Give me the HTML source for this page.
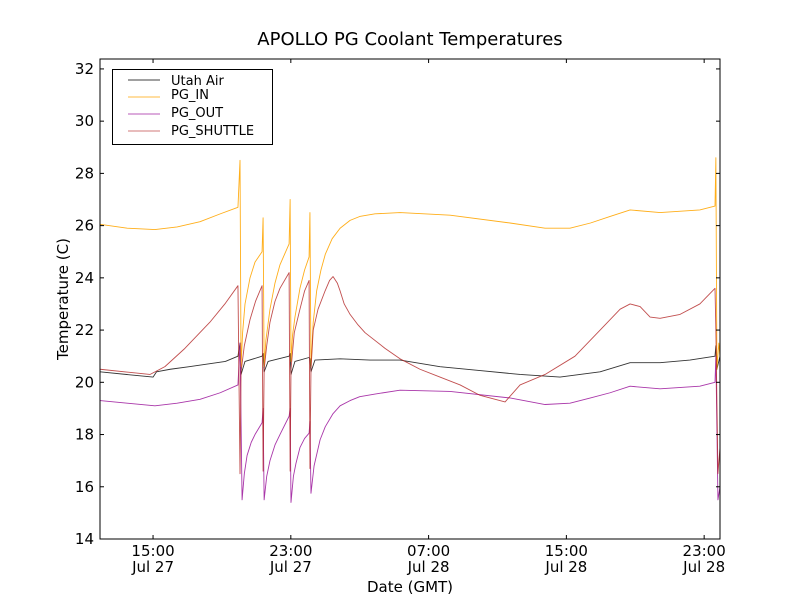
<!DOCTYPE html>
<html><head><meta charset="utf-8"><style>
body{margin:0;background:#fff;}
svg text{font-family:"DejaVu Sans","Liberation Sans",sans-serif;}
</style></head><body>
<svg id="chart" width="800" height="600" xmlns="http://www.w3.org/2000/svg">
<rect width="800" height="600" fill="#fff"/>
<text x="410" y="45" font-size="18" text-anchor="middle">APOLLO PG Coolant Temperatures</text>
<text x="410" y="592" font-size="15" text-anchor="middle">Date (GMT)</text>
<text transform="translate(68,299) rotate(-90)" font-size="15" text-anchor="middle">Temperature (C)</text>
<g id="series"></g>
<g id="axes"></g>
<g>
<rect x="112.5" y="69.5" width="160" height="75" fill="#fff" stroke="#000" stroke-width="1"/>
<line x1="128" y1="80" x2="160" y2="80" stroke="#000" stroke-width="0.8"/>
<text x="171" y="85" font-size="13">Utah Air</text>
<line x1="128" y1="97" x2="160" y2="97" stroke="#ffa500" stroke-width="0.8"/>
<text x="171" y="99" font-size="13">PG_IN</text>
<line x1="128" y1="114" x2="160" y2="114" stroke="#a020a0" stroke-width="0.8"/>
<text x="171" y="117" font-size="13">PG_OUT</text>
<line x1="128" y1="131" x2="160" y2="131" stroke="#b22222" stroke-opacity="0.8" stroke-width="0.8"/>
<text x="171" y="135" font-size="13">PG_SHUTTLE</text>
</g>
</svg>
<script>
// hours since Jul 27 00:00 GMT
const xTickHours = [15, 23, 31, 39, 47];
const xTickLabels = [["15:00","Jul 27"],["23:00","Jul 27"],["07:00","Jul 28"],["15:00","Jul 28"],["23:00","Jul 28"]];
const yTicks = [14,16,18,20,22,24,26,28,30,32];

const airT = [11.92,15.0,15.2,16.0,17.1,19.2,19.93,20.05,20.11,20.34,21.33,21.39,21.45,21.68,22.90,22.96,23.01,23.24,24.06,24.11,24.17,24.40,25.86,27.6,29.34,31.66,33.99,36.31,38.63,40.96,42.70,44.44,46.17,47.63,47.68,47.74,47.92];
const airV = [20.4,20.2,20.4,20.5,20.6,20.8,21.0,21.5,20.3,20.8,21.0,21.1,20.4,20.8,21.0,21.1,20.3,20.8,20.95,20.9,20.4,20.85,20.9,20.85,20.85,20.6,20.45,20.3,20.2,20.4,20.75,20.75,20.85,21.0,21.4,20.5,21.0];

const inT = [11.92,13.5,15.11,16.4,17.73,18.9,19.93,20.05,20.11,20.2,20.34,20.63,20.92,21.33,21.39,21.45,21.55,21.79,22.08,22.37,22.90,22.96,23.01,23.1,23.24,23.53,23.8,24.06,24.11,24.17,24.3,24.5,24.75,25.0,25.4,25.86,26.44,27.0,27.89,29.34,32.25,35.73,37.76,39.21,40.4,41.54,42.70,44.44,46.75,47.63,47.68,47.74,47.85,47.92];
const inV = [26.05,25.9,25.85,25.95,26.15,26.45,26.7,28.5,20.6,21.9,23.0,24.0,24.6,25.0,26.3,20.6,21.6,22.8,23.8,24.5,25.3,27.0,20.8,21.8,22.5,23.6,24.3,24.8,26.5,20.6,22.3,23.5,24.3,24.9,25.5,25.9,26.2,26.35,26.45,26.5,26.4,26.1,25.9,25.9,26.1,26.35,26.6,26.5,26.6,26.75,28.6,20.5,21.5,21.0];

const outT = [11.92,13.5,15.11,16.4,17.73,18.9,19.93,20.05,20.17,20.3,20.46,20.7,20.92,21.33,21.39,21.45,21.6,21.79,22.08,22.37,22.90,22.96,23.01,23.15,23.3,23.53,23.8,24.06,24.11,24.17,24.35,24.70,25.0,25.45,25.86,26.44,27.0,27.89,29.34,32.25,35.73,37.76,39.21,40.4,41.54,42.70,44.44,46.75,47.63,47.68,47.80,47.92];
const outV = [19.3,19.2,19.1,19.2,19.35,19.6,19.9,21.5,15.5,16.5,17.2,17.7,18.0,18.45,19.0,15.5,16.4,17.0,17.6,18.0,18.7,19.0,15.4,16.4,16.9,17.5,17.85,18.05,18.5,15.75,16.8,17.8,18.3,18.8,19.1,19.3,19.45,19.55,19.7,19.65,19.4,19.15,19.2,19.4,19.6,19.85,19.75,19.85,20.0,21.0,15.5,16.0];

const shT = [11.92,14.82,15.69,16.85,18.30,19.17,19.93,20.05,20.11,20.3,20.63,20.95,21.33,21.39,21.45,21.6,21.79,22.08,22.37,22.90,22.96,23.01,23.2,23.53,23.8,24.06,24.11,24.17,24.3,24.58,24.99,25.25,25.45,25.7,25.86,26.1,26.44,26.9,27.31,28.47,29.34,30.50,31.66,32.83,33.99,35.44,36.31,37.76,39.50,40.96,42.12,42.70,43.28,43.86,44.44,45.60,46.75,47.63,47.68,47.80,47.92];
const shV = [20.5,20.3,20.6,21.3,22.3,23.0,23.7,16.5,20.4,21.4,22.4,23.1,23.7,16.6,20.5,21.4,22.3,23.1,23.6,24.2,16.6,20.5,21.9,22.8,23.5,23.9,16.7,20.5,22.0,22.8,23.5,23.9,24.05,23.8,23.5,23.0,22.6,22.2,21.9,21.3,20.9,20.5,20.2,19.9,19.5,19.25,19.9,20.3,21.0,22.0,22.8,23.0,22.9,22.5,22.45,22.6,23.0,23.6,22.0,16.5,17.5];

const X0=100,X1=720,Y0=59,Y1=539,TMIN=11.92,TMAX=47.92,VMIN=14,VMAX=32.38;
function xs(t){return X0+(t-TMIN)/(TMAX-TMIN)*(X1-X0);}
function ys(v){return Y1-(v-VMIN)/(VMAX-VMIN)*(Y1-Y0);}
const NS="http://www.w3.org/2000/svg";
function mk(tag,attrs,parent){const e=document.createElementNS(NS,tag);for(const k in attrs)e.setAttribute(k,attrs[k]);parent.appendChild(e);return e;}
const sg=document.getElementById('series');
function line(T,V,color,name,op){
  let d=T.map((t,i)=>(i?'L':'M')+xs(t).toFixed(2)+','+ys(V[i]).toFixed(2)).join('');
  const p=mk('path',{d:d,fill:'none',stroke:color,'stroke-width':0.9,'stroke-opacity':op,'stroke-linejoin':'round'},sg);
  
  
}
line(airT,airV,'#000','line-utah-air',0.8);
line(inT,inV,'#ffa500','line-pg-in',0.9);
line(outT,outV,'#a020a0','line-pg-out',0.9);
line(shT,shV,'#b22222','line-pg-shuttle',0.8);

const ag=document.getElementById('axes');
mk('rect',{x:X0,y:Y0,width:X1-X0,height:Y1-Y0,fill:'none',stroke:'#000','stroke-width':1},ag);
yTicks.forEach(v=>{
  const y=ys(v);
  mk('line',{x1:X0,y1:y,x2:X0+4,y2:y,stroke:'#000'},ag);
  mk('line',{x1:X1,y1:y,x2:X1-4,y2:y,stroke:'#000'},ag);
  const t=mk('text',{x:X0-6,y:y+5,'font-size':15,'text-anchor':'end'},ag);
  t.textContent=v;
  
  
});
xTickHours.forEach((h,i)=>{
  const x=xs(h);
  mk('line',{x1:x,y1:Y1,x2:x,y2:Y1-4,stroke:'#000'},ag);
  mk('line',{x1:x,y1:Y0,x2:x,y2:Y0+4,stroke:'#000'},ag);
  const t=mk('text',{x:x,y:556,'font-size':15,'text-anchor':'middle'},ag);
  t.textContent=xTickLabels[i][0];
  
  
  const t2=mk('text',{x:x,y:572,'font-size':15,'text-anchor':'middle'},ag);
  t2.textContent=xTickLabels[i][1];
  
  
});
</script>
</body></html>
